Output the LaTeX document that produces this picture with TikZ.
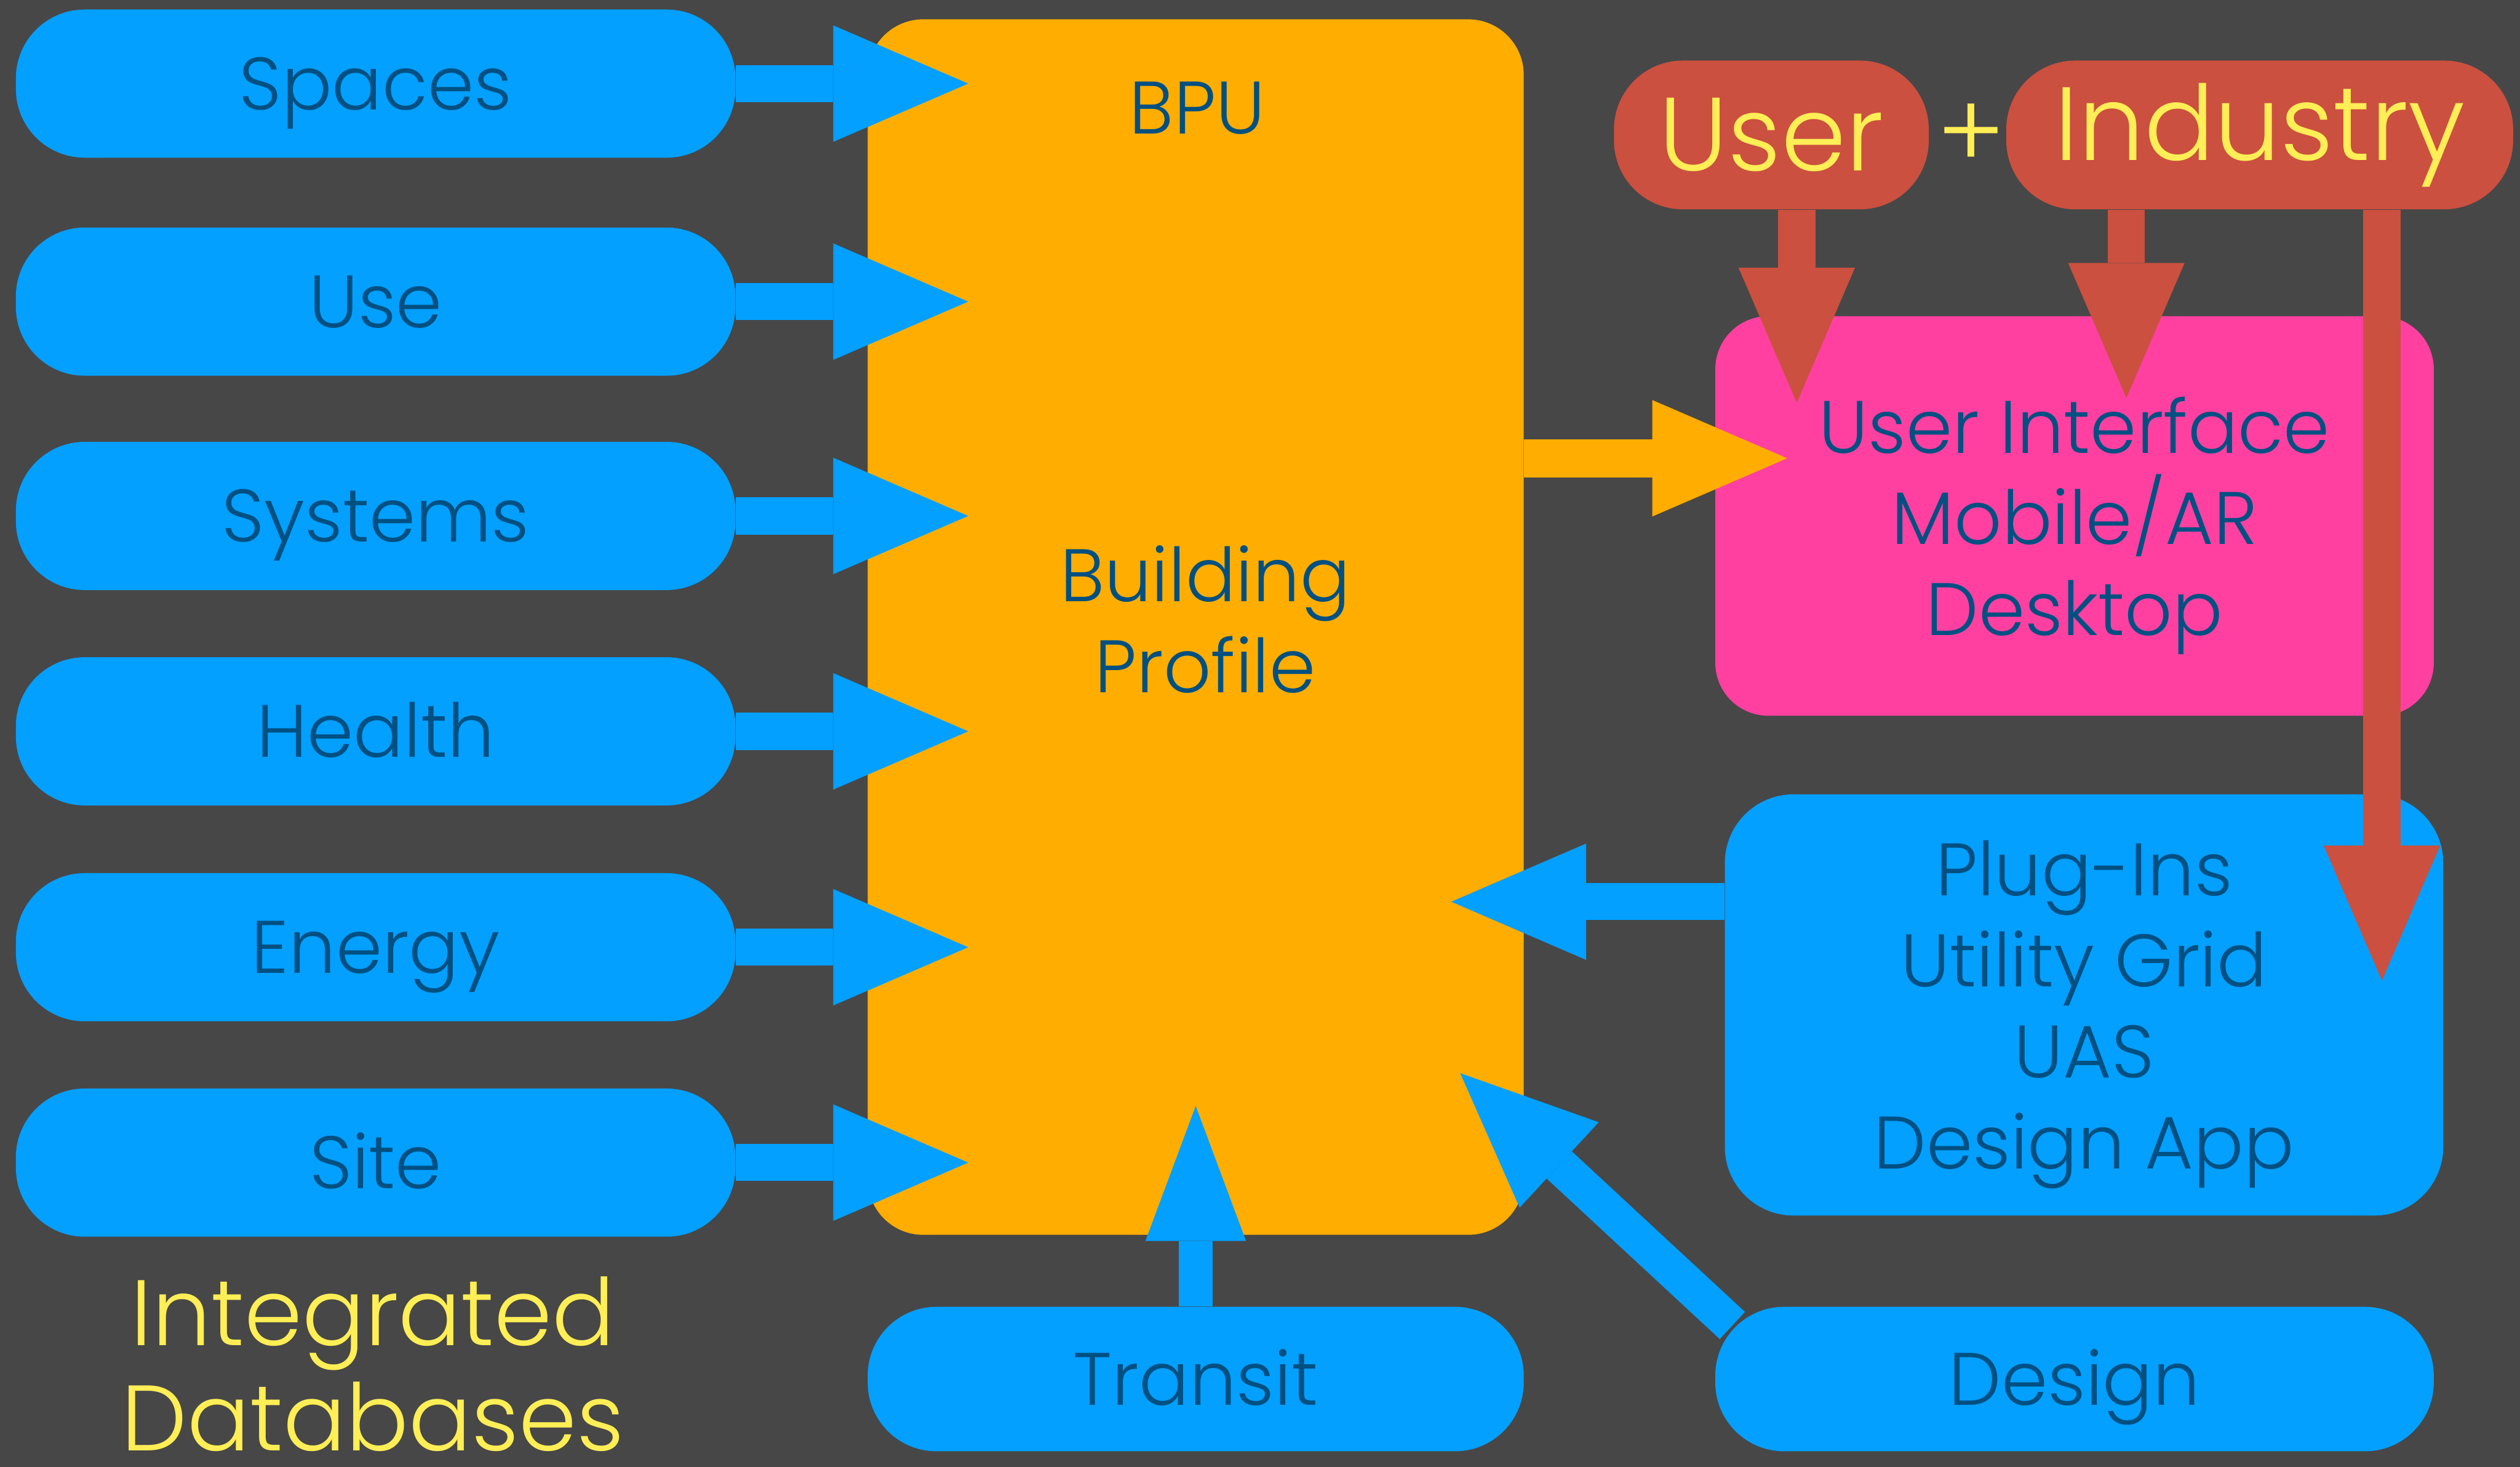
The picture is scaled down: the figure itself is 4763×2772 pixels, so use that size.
\documentclass[tikz,border=0pt]{standalone}
\usepackage{fontspec}
\IfFontExistsTF{Poppins Light}{\setmainfont{Poppins Light}}{%
  \IfFontExistsTF{Poppins-Light}{\setmainfont{Poppins-Light}}{\setmainfont{Poppins}}}
\usetikzlibrary{arrows.meta,calc}
\definecolor{bpubg}{RGB}{71,71,71}
\definecolor{bpublue}{RGB}{3,160,255}
\definecolor{bpuorange}{RGB}{255,173,0}
\definecolor{bpupink}{RGB}{255,64,160}
\definecolor{bpured}{RGB}{203,80,63}
\definecolor{bpuyellow}{RGB}{255,238,85}
\definecolor{bputext}{RGB}{0,80,130}
\newcommand{\bpufont}{\fontsize{40}{49}\selectfont}
\newcommand{\bigfont}{\fontsize{56}{56.5}\selectfont}
\newcommand{\dbfont}{\fontsize{50}{56.5}\selectfont}

\begin{document}
\begin{tikzpicture}[
  x=0.1mm, y=-0.1mm,
  tile/.style={fill=bpublue, rounded corners=13mm, inner sep=0pt, text=bputext, font=\bpufont, align=center},
  db/.style={tile, minimum width=136mm, minimum height=28mm, text height=9.8mm, text depth=0pt},
  who/.style={fill=bpured, rounded corners=13mm, minimum width=59.5mm, minimum height=28.1mm, inner sep=0pt, text=bpuyellow, font=\bigfont},
  inarr/.style={draw=bpublue, line width=7mm, -{Triangle[length=25.5mm, width=22mm, line width=0pt]}},
  redarr/.style={draw=bpured, line width=7mm, -{Triangle[length=25.5mm, width=22mm, line width=0pt]}},
  outarr/.style={draw=bpuorange, line width=7.2mm, -{Triangle[length=25.5mm, width=22mm, line width=0pt]}}
]

% canvas
\fill[bpubg] (0,0) rectangle (4763,2772);
\useasboundingbox (0,0) rectangle (4763,2772);

% integrated databases on the left
\node[db] (spaces) at (710,158) {Spaces};
\node[db] (use) at (710,570) {Use};
\node[db] (systems) at (710,975) {Systems};
\node[db] (health) at (710,1382) {Health};
\node[db] (energy) at (710,1790) {Energy};
\node[db] (site) at (710,2197) {Site};
\node[text=bpuyellow, font=\dbfont, align=center, inner sep=0pt] (intdb) at (705,2578) {Integrated\\Databases};

% building profile
\node[fill=bpuorange, rounded corners=10.5mm, minimum width=124mm, minimum height=229.7mm] (bpu) at (2260,1185) {};
\node[text=bputext, font=\bpufont] (bputitle) at (2263,204) {BPU};
\node[text=bputext, font=\bpufont, align=center] (bprofile) at (2278,1170) {Building\\Profile};

% user side
\node[who] (user) at (3348,255) {User};
\node[text=bpuyellow, font=\bigfont] (plus) at (3726,258) {+};
\node[who, minimum width=95.8mm] (industry) at (4271,255) {Industry};
\node[tile, fill=bpupink, rounded corners=10mm, minimum width=135.8mm, minimum height=75.5mm, text depth=0pt] (ui) at (3921,975) {User Interface\\Mobile/AR\\Desktop};
\node[tile, minimum width=135.8mm, minimum height=79.6mm, text depth=0pt] (plugins) at (3939,1899) {Plug-Ins\\Utility Grid\\UAS\\Design App};
\node[db, minimum width=124mm, minimum height=27.3mm] (transit) at (2260,2606) {Transit};
\node[db, minimum width=135.8mm, minimum height=27.3mm] (design) at (3921,2606) {Design};

% arrow tips
\coordinate (dbtip) at (1830,0);
\coordinate (tipui) at (3378,866);
\coordinate (tipuser) at (3396,761);
\coordinate (tipind) at (4019,752);
\coordinate (tipgrid) at (4502,1853);
\coordinate (tipplug) at (2743,1704);
\coordinate (tiptransit) at (2260,2090);
\coordinate (tipdesign) at (2760,2028);

\draw[inarr] (spaces.east) -- (spaces.east -| dbtip);
\draw[inarr] (use.east) -- (use.east -| dbtip);
\draw[inarr] (systems.east) -- (systems.east -| dbtip);
\draw[inarr] (health.east) -- (health.east -| dbtip);
\draw[inarr] (energy.east) -- (energy.east -| dbtip);
\draw[inarr] (site.east) -- (site.east -| dbtip);

\draw[outarr] (tipui -| bpu.east) -- (tipui);
\draw[redarr] (tipuser |- user.south) -- (tipuser);
\draw[redarr] (tipind |- industry.south) -- (tipind);
\draw[redarr] (tipgrid |- industry.south) -- (tipgrid);

\draw[inarr] (tipplug -| plugins.west) -- (tipplug);
\draw[inarr, line width=6.3mm, -{Triangle[length=25.5mm, width=19mm, line width=0pt]}] (transit.north) -- (tiptransit);
\draw[inarr] ([shift={(3.3mm,-3.6mm)}]design.north west) -- (tipdesign);
\end{tikzpicture}
\end{document}
